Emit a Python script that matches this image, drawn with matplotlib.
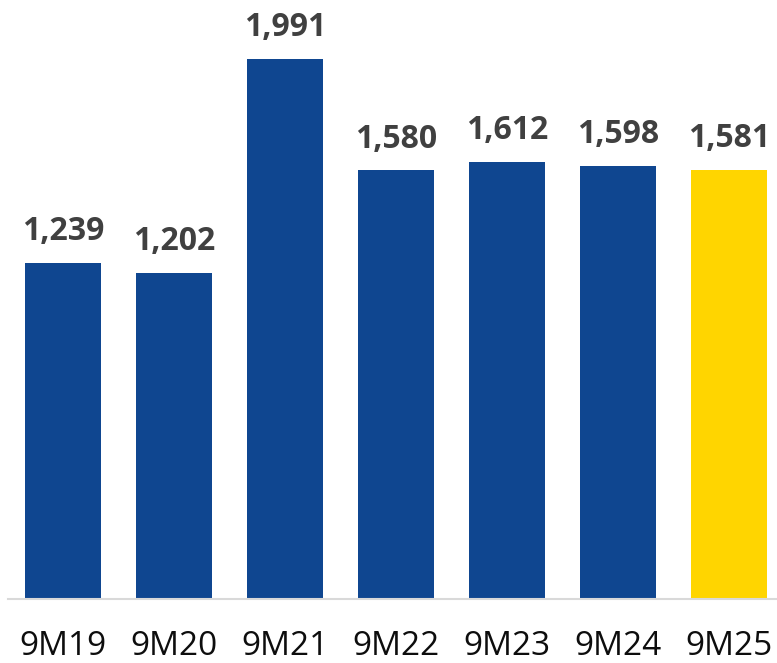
import matplotlib.pyplot as plt
import numpy as np

periods = ['9M19', '9M20', '9M21', '9M22', '9M23', '9M24', '9M25']
values = [1239, 1202, 1991, 1580, 1612, 1598, 1581]
bar_colors = ['#0f4690'] * 6 + ['#ffd500']

plt.rcParams['font.family'] = ['Open Sans', 'DejaVu Sans']

fig = plt.figure(figsize=(7.77, 6.63), dpi=100)
ax = fig.add_axes([8 / 777, 1 - 599 / 663, 1 - 8 / 777, 599 / 663])

x = np.arange(len(periods))
ax.bar(x, values, width=0.684, color=bar_colors)

# value labels above bars
for xi, v in zip(x, values):
    ax.annotate(f'{v:,}', (xi, v), xytext=(0, 16.5), textcoords='offset points',
                ha='center', va='baseline', fontsize=23, fontweight='bold', color='#404040')

ax.set_xlim(-0.495, 6.428)
ax.set_ylim(0, 1991 * 599 / (599 - 59))
ax.set_xticks(x)
ax.set_xticklabels(periods, fontsize=24, color='#0d0d0d')
ax.tick_params(axis='x', length=0, pad=22)
ax.set_yticks([])

for side in ['top', 'right', 'left']:
    ax.spines[side].set_visible(False)
ax.spines['bottom'].set_color('#d9d9d9')
ax.spines['bottom'].set_linewidth(1.5)

fig.savefig('out.png', dpi=100)
